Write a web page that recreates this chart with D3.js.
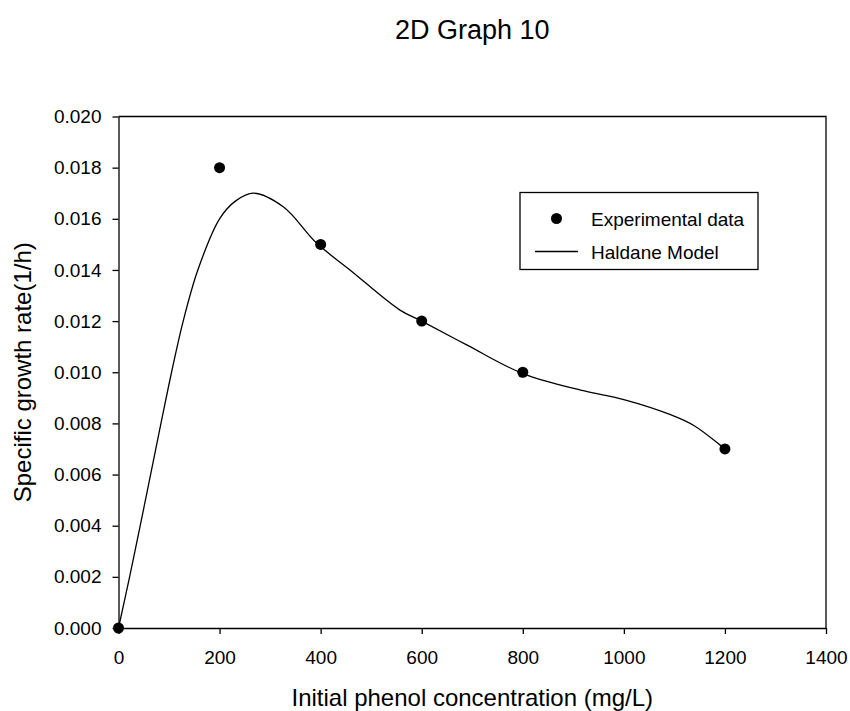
<!DOCTYPE html>
<html>
<head>
<meta charset="utf-8">
<script src="https://cdn.jsdelivr.net/npm/d3@7"></script>
<style>
  body { margin: 0; background: #fff; }
  text { font-family: "Liberation Sans", Arial, sans-serif; fill: #000; }
</style>
</head>
<body>
<div id="chart"></div>
<script>
// experimental points
const expX = [0, 200, 400, 600, 800, 1200];
const expY = [0.000, 0.018, 0.015, 0.012, 0.010, 0.007];

// Haldane model curve
const modelX = [0, 22, 43, 63.5, 84, 105, 128, 157, 200, 232, 267, 326, 392, 458, 557, 600, 689, 800, 920, 1000, 1091, 1140, 1190, 1200];
const modelY = [0, 0.002, 0.004, 0.006, 0.008, 0.010, 0.012, 0.014, 0.016, 0.0167, 0.0170, 0.01647, 0.01505, 0.0140, 0.01243, 0.0120, 0.01107, 0.00995, 0.00928, 0.00893, 0.00835, 0.0079, 0.00716, 0.0070];

const xTicks = [0, 200, 400, 600, 800, 1000, 1200, 1400];
const yTicks = [0, 0.002, 0.004, 0.006, 0.008, 0.010, 0.012, 0.014, 0.016, 0.018, 0.020];

const width = 850, height = 711;
const plotLeft = 118.5, plotRight = 826, plotTop = 116.5, plotBottom = 628;

const svg = d3.select('#chart').append('svg')
    .attr('width', width)
    .attr('height', height);

const x = d3.scaleLinear().domain([0, 1400]).range([plotLeft, plotRight]);
const y = d3.scaleLinear().domain([0, 0.02]).range([plotBottom, plotTop]);

// frame (top + right)
svg.append('path')
    .attr('d', `M${plotLeft},${plotTop}H${plotRight}V${plotBottom}`)
    .attr('fill', 'none')
    .attr('stroke', '#000')
    .attr('stroke-width', 1.3);

// axes
const xAxis = svg.append('g')
    .attr('transform', `translate(0,${plotBottom})`)
    .call(d3.axisBottom(x).tickValues(xTicks).tickSize(6).tickPadding(17).tickSizeOuter(0)
        .tickFormat(d3.format('d')));
const yAxis = svg.append('g')
    .attr('transform', `translate(${plotLeft},0)`)
    .call(d3.axisLeft(y).tickValues(yTicks).tickSize(6).tickPadding(11).tickSizeOuter(0)
        .tickFormat(d3.format('.3f')));

[xAxis, yAxis].forEach(g => {
    g.select('.domain').attr('stroke-width', 1.3);
    g.selectAll('.tick line').attr('stroke-width', 1.3);
    g.selectAll('.tick text')
        .style('font-family', '"Liberation Sans", Arial, sans-serif')
        .style('font-size', '19px')
        .attr('fill', '#000');
});

// model curve
const line = d3.line()
    .x((d, i) => x(modelX[i]))
    .y((d, i) => y(modelY[i]))
    .curve(d3.curveCatmullRom.alpha(0.5));

svg.append('path')
    .datum(modelX)
    .attr('d', line)
    .attr('fill', 'none')
    .attr('stroke', '#000')
    .attr('stroke-width', 1.3);

// experimental data
svg.selectAll('circle.pt')
    .data(expX)
    .enter().append('circle')
    .attr('class', 'pt')
    .attr('cx', d => x(d))
    .attr('cy', (d, i) => y(expY[i]))
    .attr('r', 5.5)
    .attr('fill', '#000');

// titles
svg.append('text')
    .attr('x', (plotLeft + plotRight) / 2)
    .attr('y', 39)
    .attr('text-anchor', 'middle')
    .style('font-size', '27px')
    .text('2D Graph 10');

svg.append('text')
    .attr('x', (plotLeft + plotRight) / 2)
    .attr('y', 706)
    .attr('text-anchor', 'middle')
    .style('font-size', '24px')
    .text('Initial phenol concentration (mg/L)');

svg.append('text')
    .attr('transform', `translate(31,${(plotTop + plotBottom) / 2}) rotate(-90)`)
    .attr('text-anchor', 'middle')
    .style('font-size', '24px')
    .text('Specific growth rate(1/h)');

// legend
const lg = svg.append('g');
lg.append('rect')
    .attr('x', 520).attr('y', 192.5)
    .attr('width', 238).attr('height', 77)
    .attr('fill', '#fff')
    .attr('stroke', '#000')
    .attr('stroke-width', 1.3);
lg.append('circle')
    .attr('cx', 556.5).attr('cy', 218.5)
    .attr('r', 5.5).attr('fill', '#000');
lg.append('line')
    .attr('x1', 535).attr('x2', 578)
    .attr('y1', 251.5).attr('y2', 251.5)
    .attr('stroke', '#000').attr('stroke-width', 1.3);
lg.append('text')
    .attr('x', 591).attr('y', 226)
    .style('font-size', '19px')
    .text('Experimental data');
lg.append('text')
    .attr('x', 591).attr('y', 259)
    .style('font-size', '19px')
    .text('Haldane Model');
</script>
</body>
</html>
